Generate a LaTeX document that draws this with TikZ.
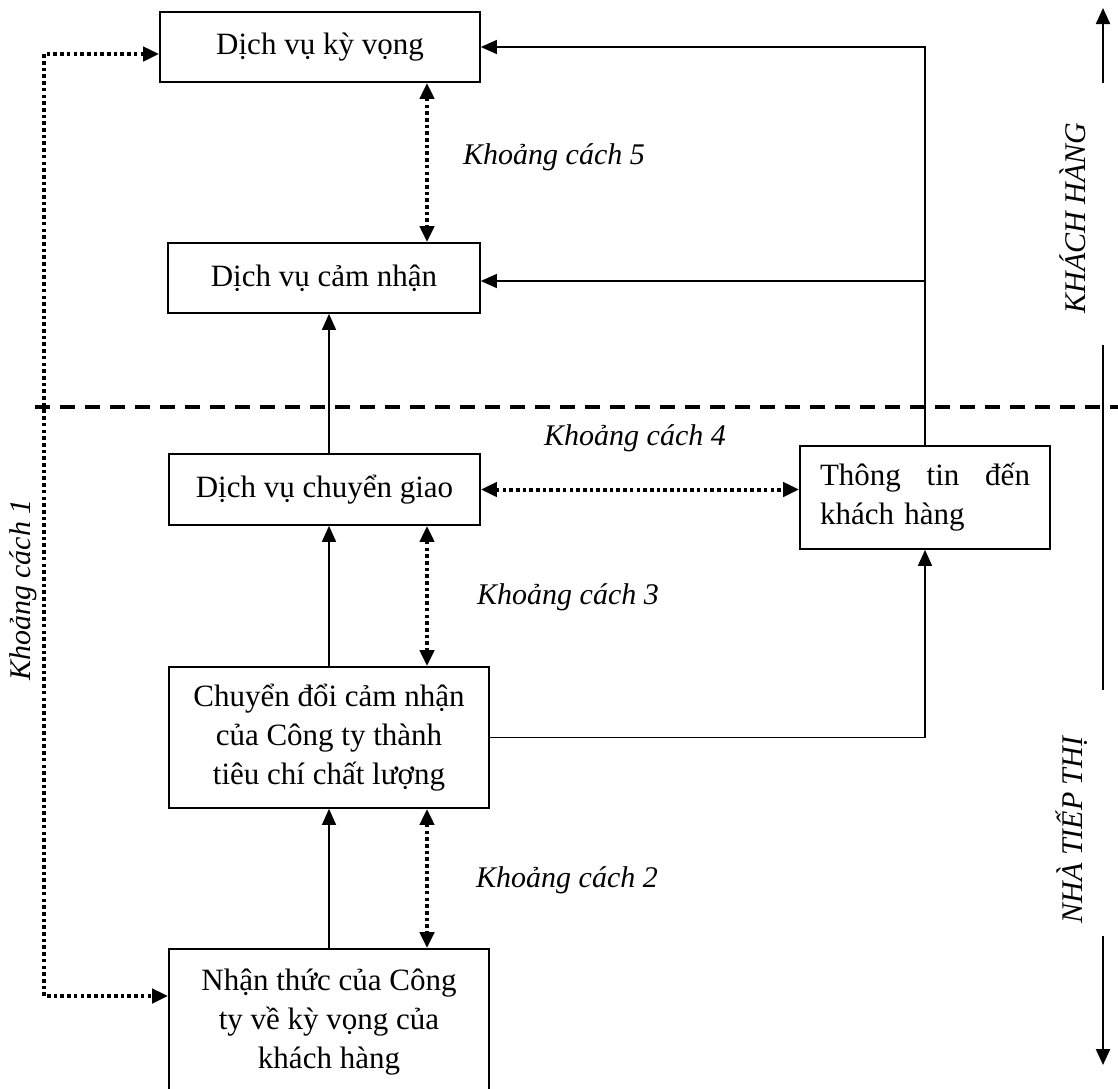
\documentclass[tikz,border=0pt]{standalone}
\usepackage{fontspec}
\setmainfont{Liberation Serif}
\usetikzlibrary{arrows.meta,calc}
\begin{document}
\begin{tikzpicture}[x=1pt,y=-1pt,
  txt/.style={font=\fontsize{31}{39}\selectfont},
  box/.style={txt,draw,line width=1.7pt,inner sep=0pt,align=center},
  gaplabel/.style={inner sep=0pt,font=\fontsize{30}{39}\selectfont\itshape},
  headtip/.tip={Triangle[length=16pt,width=14pt]},
  flow/.style={line width=1.5pt,-headtip},
  gapline/.style={line width=4pt,dash pattern=on 3.6pt off 3.1pt,headtip-headtip},
  divider/.style={line width=3.4pt,dash pattern=on 15pt off 10pt},
  side/.style={line width=2.2pt},
]
\useasboundingbox (0,0) rectangle (1118,1088);

% boxes
\node[box,minimum width=320pt,minimum height=70pt] (b1) at (320,47) {Dịch vụ kỳ vọng};
\node[box,minimum width=312pt,minimum height=70pt] (b2) at (324,278) {Dịch vụ cảm nhận};
\node[box,minimum width=311pt,minimum height=71pt] (b3) at (324.5,489.5) {Dịch vụ chuyển giao};
\node[box,minimum width=320pt,minimum height=141pt] (b4) at (329,737.5)
  {Chuyển đổi cảm nhận\\của Công ty thành\\tiêu chí chất lượng};
\node[box,minimum width=320pt,minimum height=146pt] (b5) at (329,1022)
  {Nhận thức của Công\\ty về kỳ vọng của\\khách hàng};
\node[box,minimum width=250pt,minimum height=103pt,align=left,text width=210pt] (b6) at (925,497.5)
  {\makebox[210pt][s]{Thông\hfill tin\hfill đến}\\khách hàng};

% gap labels
\node[gaplabel,anchor=west] (k5) at (463,157) {Khoảng cách 5};
\node[gaplabel,anchor=west] (k4) at (544,438) {Khoảng cách 4};
\node[gaplabel,anchor=west] (k3) at (477,597) {Khoảng cách 3};
\node[gaplabel,anchor=west] (k2) at (476,880) {Khoảng cách 2};
\node[gaplabel,rotate=90] (k1) at (23,590) {Khoảng cách 1};

% customer / marketer divider
\coordinate (dvL) at (35,407);
\coordinate (dvR) at (1118,407);
\draw[divider] (dvL) -- (dvR);

% solid flows
\draw[flow] (b6.north) |- (b1.east);
\draw[flow] (b6.north) |- ($(b2.east)+(0,3)$);
\draw[flow] (b3.north -| b4) -- (b2.south -| b4);
\draw[flow] (b4.north) -- (b3.south -| b4);
\draw[flow] (b5.north) -- (b4.south);
\draw[flow] (b4.east) -| (b6.south);

% gaps
\coordinate (gx) at (427,0);
\draw[gapline] (b1.south -| gx) -- (b2.north -| gx);
\draw[gapline] (b3.south -| gx) -- (b4.north -| gx);
\draw[gapline] (b4.south -| gx) -- (b5.north -| gx);
\draw[gapline] (b3.east) -- (b3.east -| b6.west);
\coordinate (g1top) at (44,54);
\coordinate (g1bot) at (44,996);
\draw[gapline,line join=miter] (g1top -| b1.west) -- (g1top) -- (g1bot) -- (g1bot -| b5.west);

% side axis
\coordinate (sTop) at (1103,8);
\coordinate (sA) at (1103,83);
\coordinate (sB) at (1103,345);
\coordinate (sC) at (1103,690);
\coordinate (sD) at (1103,936);
\coordinate (sBot) at (1103,1065);
\draw[side,-headtip] (sA) -- (sTop);
\draw[side] (sB) -- (sC);
\draw[side,-headtip] (sD) -- (sBot);
\node[gaplabel,rotate=90] (kh) at (1073,218) {KHÁCH HÀNG};
\node[gaplabel,rotate=90] (nt) at (1072,830) {NHÀ TIẾP THỊ};
\end{tikzpicture}
\end{document}
